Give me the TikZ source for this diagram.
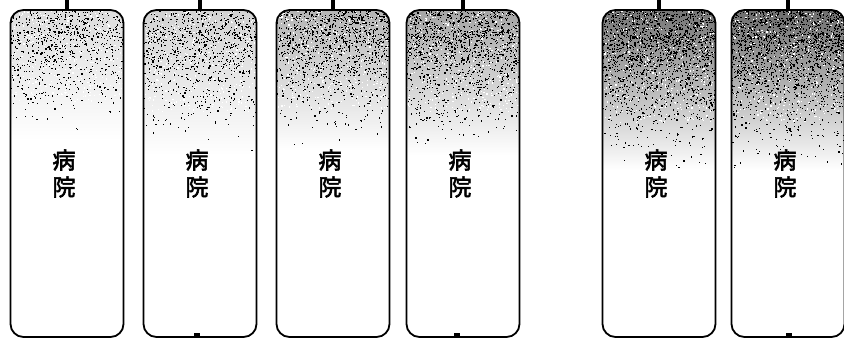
\documentclass[tikz,border=0pt]{standalone}
\usepackage{fontspec}
\newfontfamily\cjk{Noto Sans CJK JP}[FakeBold=2.5]
\begin{document}
\begin{tikzpicture}[x=1pt,y=-1pt,
  ward/.style={draw=black, line width=1.8pt, rounded corners=13pt, minimum width=113pt, minimum height=327pt, inner sep=0pt},
  tabmark/.style={fill=black, minimum width=4.5pt, minimum height=10pt, inner sep=0pt, anchor=south},
  footmark/.style={fill=black, minimum width=6pt, minimum height=4pt, inner sep=0pt, anchor=south},
  wardtext/.style={font=\cjk\fontsize{23}{27}\selectfont, align=center, text=black, inner sep=0pt}]
\useasboundingbox (0,0) rectangle (844,339);
\pgfmathsetseed{7}
\foreach \n/\cx/\lv/\dp/\nd in {1/67/14/130/750, 2/200/18/145/900, 3/333/30/140/1150, 4/463/36/145/1300, 5/659/55/160/1800, 6/788/58/160/1900} {
  \begin{scope}
    \clip[rounded corners=13pt] (\cx-56.5,10) rectangle (\cx+56.5,337);
    \pgfmathsetmacro\mv{\lv*0.55}
    \shade[top color=black!\lv, middle color=black!\mv, bottom color=white] (\cx-57,8) rectangle (\cx+57,10+\dp);
    \foreach \k in {1,...,\nd} {
      \pgfmathsetmacro\px{\cx-56.5+113*rnd}
      \pgfmathsetmacro\py{10+\dp*min(min(rnd,rnd),rnd+0.15)}
      \fill[black] (\px,\py) rectangle ++(1.2,1.2);
    }
    \foreach \k in {1,...,350} {
      \pgfmathsetmacro\px{\cx-56.5+113*rnd}
      \pgfmathsetmacro\py{10+0.7*\dp*rnd}
      \fill[white] (\px,\py) rectangle ++(1.2,1.2);
    }
  \end{scope}
  \node[ward] (b\n) at (\cx,173.5) {};
  \node[tabmark] (t\n) at (b\n.north) {};
  \node[wardtext] (w\n) at ([xshift=-3pt,yshift=1pt]b\n.center) {病\\院};
}
\node[footmark] (f2) at ([xshift=-3pt,yshift=1pt]b2.south) {};
\node[footmark] (f4) at ([xshift=-6pt,yshift=1pt]b4.south) {};
\node[footmark] (f6) at ([xshift=1pt,yshift=1pt]b6.south) {};
\end{tikzpicture}
\end{document}
